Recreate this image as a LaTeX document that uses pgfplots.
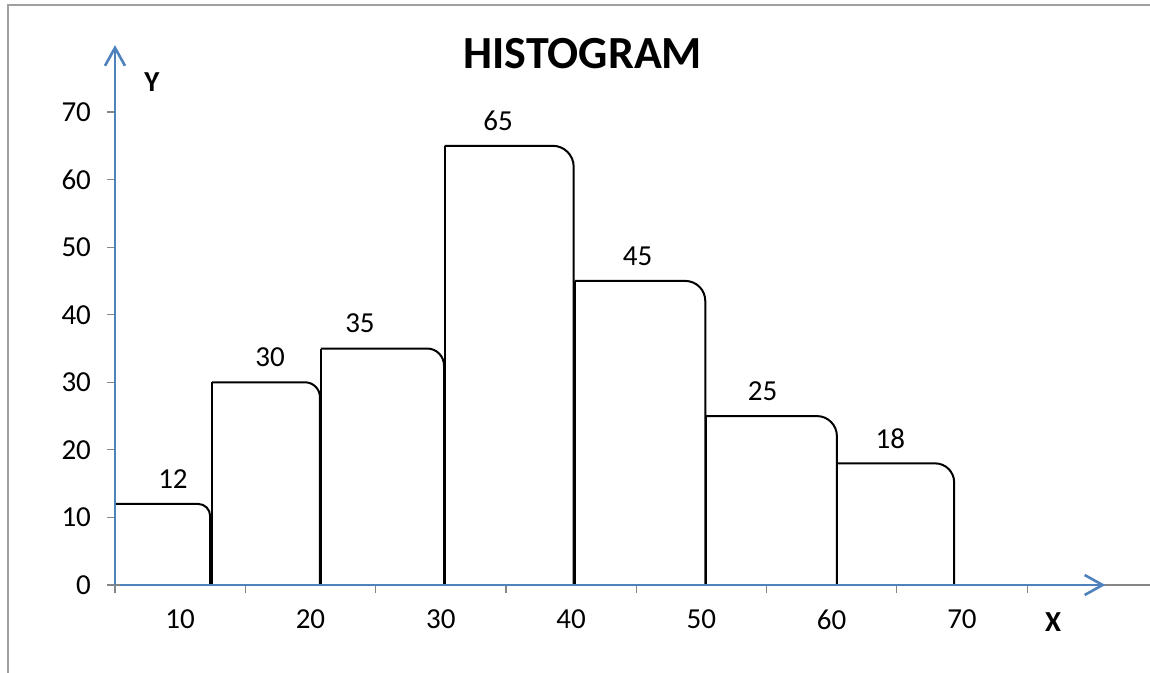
\documentclass[border=0pt]{standalone}
\usepackage{pgfplots}
\pgfplotsset{compat=1.18}
\usepackage{pgfplotstable}
\usepackage{fontspec}
\setmainfont{Carlito}
\usetikzlibrary{arrows.meta}

\definecolor{axisblue}{RGB}{79,129,189}
\definecolor{framegray}{RGB}{160,160,160}
\definecolor{tickgray}{RGB}{134,134,134}

% class intervals: left edge, right edge, frequency, label position
\pgfplotstableread{
x0    x1    h  xl
5.00  12.30 12 9.45
12.45 20.73 30 16.9
20.80 30.25 35 23.8
30.30 40.20 65 34.4
40.30 50.30 45 45.1
50.36 60.40 25 54.7
60.40 69.40 18 64.5
}\bars

\pgfplotsset{/pgf/number format/assume math mode=true}

\begin{document}
\begin{tikzpicture}
\path[use as bounding box] (0,0) rectangle (575pt,336.5pt);
\draw[framegray, line width=1pt] (4pt,0) -- (4pt,334pt) -- (575pt,334pt);
\begin{axis}[
  at={(57.5pt,44pt)}, anchor=south west,
  scale only axis, width=517.5pt, height=236.5pt,
  xmin=5, xmax=84.43, ymin=0, ymax=70,
  axis x line*=bottom, axis y line*=left,
  axis line style={tickgray, line width=0.75pt},
  clip=false,
  tick align=outside,
  major tick length=4pt,
  tick style={tickgray, line width=0.6pt},
  xtick={5,15,...,75}, xticklabels={},
  extra x ticks={10,20,...,70},
  extra x tick labels={10,20,30,40,50,60,70},
  extra x tick style={major tick length=0pt},
  ytick={0,10,...,70},
  yticklabels={0,10,20,30,40,50,60,70},
  ticklabel style={font=\fontsize{14.5}{16}\selectfont},
  xticklabel style={yshift=-9pt},
  yticklabel style={xshift=-4.5pt},
]
% left edges of the bars
\addplot[ycomb, black, line width=1pt] table[x=x0, y=h] {\bars};
% top and right edges, rounded at the upper right corner
\addplot[black, line width=1pt, rounded corners=6pt]   coordinates {(5.00,12) (12.30,12) (12.30,0)};
\addplot[black, line width=1pt, rounded corners=7.5pt] coordinates {(12.45,30) (20.73,30) (20.73,0)};
\addplot[black, line width=1pt, rounded corners=8.5pt] coordinates {(20.80,35) (30.25,35) (30.25,0)};
\addplot[black, line width=1pt, rounded corners=10.5pt] coordinates {(30.30,65) (40.20,65) (40.20,0)};
\addplot[black, line width=1pt, rounded corners=10pt]  coordinates {(40.30,45) (50.30,45) (50.30,0)};
\addplot[black, line width=1pt, rounded corners=10pt]  coordinates {(50.36,25) (60.40,25) (60.40,0)};
\addplot[black, line width=1pt, rounded corners=9.5pt] coordinates {(60.40,18) (69.40,18) (69.40,0)};
% frequency labels
\addplot[draw=none, nodes near coords, point meta=y,
  nodes near coords style={anchor=center, yshift=12.5pt, font=\fontsize{14.5}{16}\selectfont}]
  table[x=xl, y=h] {\bars};
% drawn axes with open arrow heads
\addplot[axisblue, line width=1.3pt, -{Straight Barb[length=9pt,width=10pt]}] coordinates {(5,0) (5,79.9)};
\addplot[axisblue, line width=1.3pt, -{Straight Barb[length=9pt,width=10pt]}] coordinates {(5.38,0) (81.0,0)};
\node[font=\fontsize{14.5}{16}\selectfont\bfseries] at (axis cs:7.84,74.4) {Y};
\node[font=\fontsize{14.5}{16}\selectfont\bfseries] at (axis cs:77.0,-5.5) {X};
\node[font=\fontsize{23}{26}\selectfont\bfseries] at (axis cs:40.9,78.6) {HISTOGRAM};
\end{axis}
\end{tikzpicture}
\end{document}
